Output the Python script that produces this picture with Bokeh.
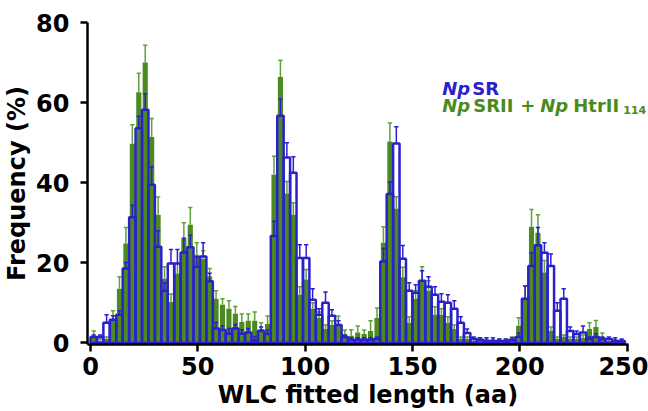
from bokeh.plotting import figure
from bokeh.models import Range1d, ColumnDataSource, FixedTicker, Label
from bokeh.embed import file_html
from bokeh.resources import INLINE

# ---- data ----
bin_left = [0, 3, 6, 9, 12, 15, 18, 21, 24, 27,
            30, 33, 36, 39, 42, 45, 48, 51, 54, 57,
            60, 63, 66, 69, 72, 75, 78, 81, 84, 87,
            90, 93, 96, 99, 102, 105, 108, 111, 114, 117,
            120, 123, 126, 129, 132, 135, 138, 141, 144, 147,
            150, 153, 156, 159, 162, 165, 168, 171, 174, 177,
            180, 183, 186, 189, 192, 195, 198, 201, 204, 207,
            210, 213, 216, 219, 222, 225, 228, 231, 234, 237,
            240, 243, 246]
bin_width = 3

srii_freq = [1.5, 0.5, 1.0, 5.5, 13.5, 24.8, 49.7, 62.6, 70.0, 51.4,
             32.0, 16.0, 10.2, 17.3, 26.0, 29.5, 22.0, 21.0, 16.6, 11.0,
             9.5, 8.5, 7.3, 5.2, 5.5, 5.5, 3.5, 4.7, 42.0, 66.4,
             37.3, 32.0, 12.0, 15.8, 8.5, 6.2, 3.5, 4.5, 4.7, 2.2,
             1.8, 2.6, 2.2, 3.0, 6.2, 25.0, 50.3, 33.5, 16.4, 5.0,
             11.0, 15.5, 13.0, 7.0, 7.0, 5.0, 3.5, 1.0, 1.0, 0.5,
             0.5, 0.5, 0.3, 0.5, 0.5, 1.0, 4.3, 11.0, 29.0, 27.5,
             17.6, 3.0, 1.0, 1.5, 1.0, 1.0, 1.2, 3.5, 4.0, 1.5,
             0.5, 0.3, 0.3]
srii_err = [1.5, 0.5, 0.5, 2.5, 3.0, 4.0, 4.8, 4.7, 4.3, 4.6,
            4.4, 3.0, 2.0, 2.5, 4.0, 4.3, 3.0, 2.0, 2.0, 2.0,
            1.5, 2.0, 1.8, 2.0, 1.7, 2.2, 1.5, 2.0, 4.6, 4.2,
            3.0, 3.0, 2.0, 2.5, 1.5, 1.5, 1.0, 1.0, 2.0, 1.0,
            1.5, 1.6, 1.0, 2.5, 2.5, 4.0, 4.6, 3.0, 2.5, 1.5,
            2.0, 3.5, 2.5, 2.0, 1.5, 1.5, 1.0, 0.5, 0.5, 0.8,
            0.8, 0.5, 0.5, 0.5, 0.5, 0.5, 2.0, 3.3, 4.3, 4.5,
            3.0, 1.0, 0.5, 0.5, 0.5, 0.5, 0.8, 1.5, 1.6, 1.0,
            0.5, 0.5, 0.3]

sr_freq = [1.5, 1.5, 5.0, 5.8, 7.0, 18.6, 31.4, 53.6, 58.2, 39.5,
           24.0, 13.0, 19.8, 19.8, 22.6, 23.9, 19.0, 21.6, 15.4, 3.6,
           3.2, 2.3, 3.6, 2.3, 2.6, 0.6, 3.0, 2.2, 26.7, 56.7,
           46.3, 42.5, 21.2, 21.2, 10.8, 7.0, 10.0, 6.8, 4.5, 1.4,
           0.8, 0.8, 0.8, 0.8, 1.0, 20.3, 37.2, 49.8, 21.0, 13.0,
           12.5, 15.5, 14.0, 12.0, 10.3, 10.0, 8.5, 5.0, 2.5, 1.0,
           0.8, 0.5, 0.5, 0.5, 0.5, 0.8, 1.5, 11.0, 19.2, 24.4,
           22.5, 19.2, 8.0, 11.0, 3.0, 2.2, 2.6, 1.0, 1.5, 1.0,
           1.0, 0.5, 0.5]
sr_err = [0.5, 0.5, 2.0, 1.0, 1.0, 1.5, 3.0, 3.0, 4.0, 4.5,
          4.0, 2.0, 3.5, 3.5, 3.5, 3.0, 2.5, 3.4, 2.0, 1.5,
          1.0, 1.3, 1.0, 1.0, 1.0, 1.0, 1.0, 1.0, 3.7, 4.2,
          3.7, 4.0, 3.3, 3.3, 2.7, 1.5, 2.7, 1.5, 1.0, 0.5,
          0.5, 0.5, 0.5, 0.5, 0.5, 3.3, 3.0, 4.2, 3.3, 2.0,
          2.0, 2.5, 2.5, 2.0, 2.0, 2.0, 2.0, 1.5, 1.0, 0.5,
          0.5, 0.8, 0.8, 0.5, 0.5, 0.5, 1.0, 3.2, 3.3, 4.4,
          2.5, 3.0, 2.0, 2.5, 1.0, 0.8, 1.6, 0.5, 0.8, 0.5,
          0.5, 0.8, 0.5]

x_ticks = [0, 50, 100, 150, 200, 250]
y_ticks = [0, 20, 40, 60, 80]
x_title = "WLC fitted length (aa)"
y_title = "Frequency (%)"

GREEN = "#4B8A1E"
GREEN_ERR = "#62A03C"
BLUE = "#2B20CC"
FONT = "DejaVu Sans"

centers = [b + bin_width / 2 for b in bin_left]
rights = [b + bin_width for b in bin_left]
cap = 1.0

src = ColumnDataSource(dict(
    left=bin_left, right=rights, x=centers,
    g=srii_freq, g_hi=[v + e for v, e in zip(srii_freq, srii_err)],
    b=sr_freq, b_hi=[v + e for v, e in zip(sr_freq, sr_err)],
    xl=[c - cap for c in centers], xr=[c + cap for c in centers],
))

# frame runs to the right canvas edge so the legend text is not clipped;
# the visible x axis is limited with bounds
p = figure(width=648, height=411, x_range=Range1d(-1.4, 260.0), y_range=Range1d(-0.4, 80),
           output_backend="svg", toolbar_location=None,
           min_border_left=87, min_border_right=0, min_border_top=22, min_border_bottom=66)
p.outline_line_color = None
p.grid.visible = False
p.background_fill_color = "white"

# green bars + error bars
p.vbar(x="x", top="g", bottom=0, width=2.4, source=src, fill_color=GREEN, line_color=None)
p.segment(x0="x", y0="g", x1="x", y1="g_hi", source=src, line_color=GREEN_ERR, line_width=1.5)
p.segment(x0="xl", y0="g_hi", x1="xr", y1="g_hi", source=src, line_color=GREEN_ERR, line_width=1.5)

# blue outline bars + error bars
p.quad(left="left", right="right", bottom=0, top="b", source=src, fill_color=None,
       line_color=BLUE, line_width=2.5)
p.segment(x0="x", y0="b", x1="x", y1="b_hi", source=src, line_color=BLUE, line_width=1.5)
p.segment(x0="xl", y0="b_hi", x1="xr", y1="b_hi", source=src, line_color=BLUE, line_width=1.5)

for ax in (p.xaxis[0], p.yaxis[0]):
    ax.axis_line_width = 2.5
    ax.axis_line_color = "black"
    ax.major_tick_line_width = 2.5
    ax.major_tick_line_color = "black"
    ax.major_tick_out = 7
    ax.major_tick_in = 0
    ax.minor_tick_line_color = None
    ax.major_label_text_font = FONT
    ax.major_label_text_font_style = "bold"
    ax.major_label_text_font_size = "24px"
    ax.major_label_text_color = "black"
    ax.axis_label_text_font = FONT
    ax.axis_label_text_font_style = "bold"
    ax.axis_label_text_font_size = "24px"
    ax.axis_label_text_color = "black"

p.xaxis.bounds = (-1.4, 250.7)
p.xaxis.ticker = FixedTicker(ticks=x_ticks)
p.yaxis.ticker = FixedTicker(ticks=y_ticks)
p.xaxis.axis_label = x_title
p.yaxis.axis_label = y_title
p.xaxis.major_label_standoff = 5
p.xaxis.axis_label_standoff = 3
p.yaxis.major_label_standoff = 11
p.yaxis.axis_label_standoff = 2

# legend text (rich text built from pieces; offsets in pixels)
lx = 163.9
l1y = 63.5
l2y = 59.3
pieces = [
    (lx, l1y, 0, 0, "Np", "bold italic", "18px", BLUE),
    (lx, l1y, 30, 0, "SR", "bold", "18px", BLUE),
    (lx, l2y, 0, 0, "Np", "bold italic", "18px", GREEN),
    (lx, l2y, 31, 0, "SRII", "bold", "18px", GREEN),
    (lx, l2y, 78, 0, "+", "bold", "18px", GREEN),
    (lx, l2y, 98, 0, "Np", "bold italic", "18px", GREEN),
    (lx, l2y, 131, 0, "HtrII", "bold", "18px", GREEN),
    (lx, l2y, 181, -5, "114", "bold", "11px", GREEN),
]
for x, y, xo, yo, t, st, fs, col in pieces:
    p.add_layout(Label(x=x, y=y, x_offset=xo, y_offset=yo, text=t, text_font=FONT,
                       text_font_style=st, text_font_size=fs, text_color=col,
                       text_baseline="alphabetic", text_align="left"))

open("out.html", "w").write(file_html(p, INLINE))
